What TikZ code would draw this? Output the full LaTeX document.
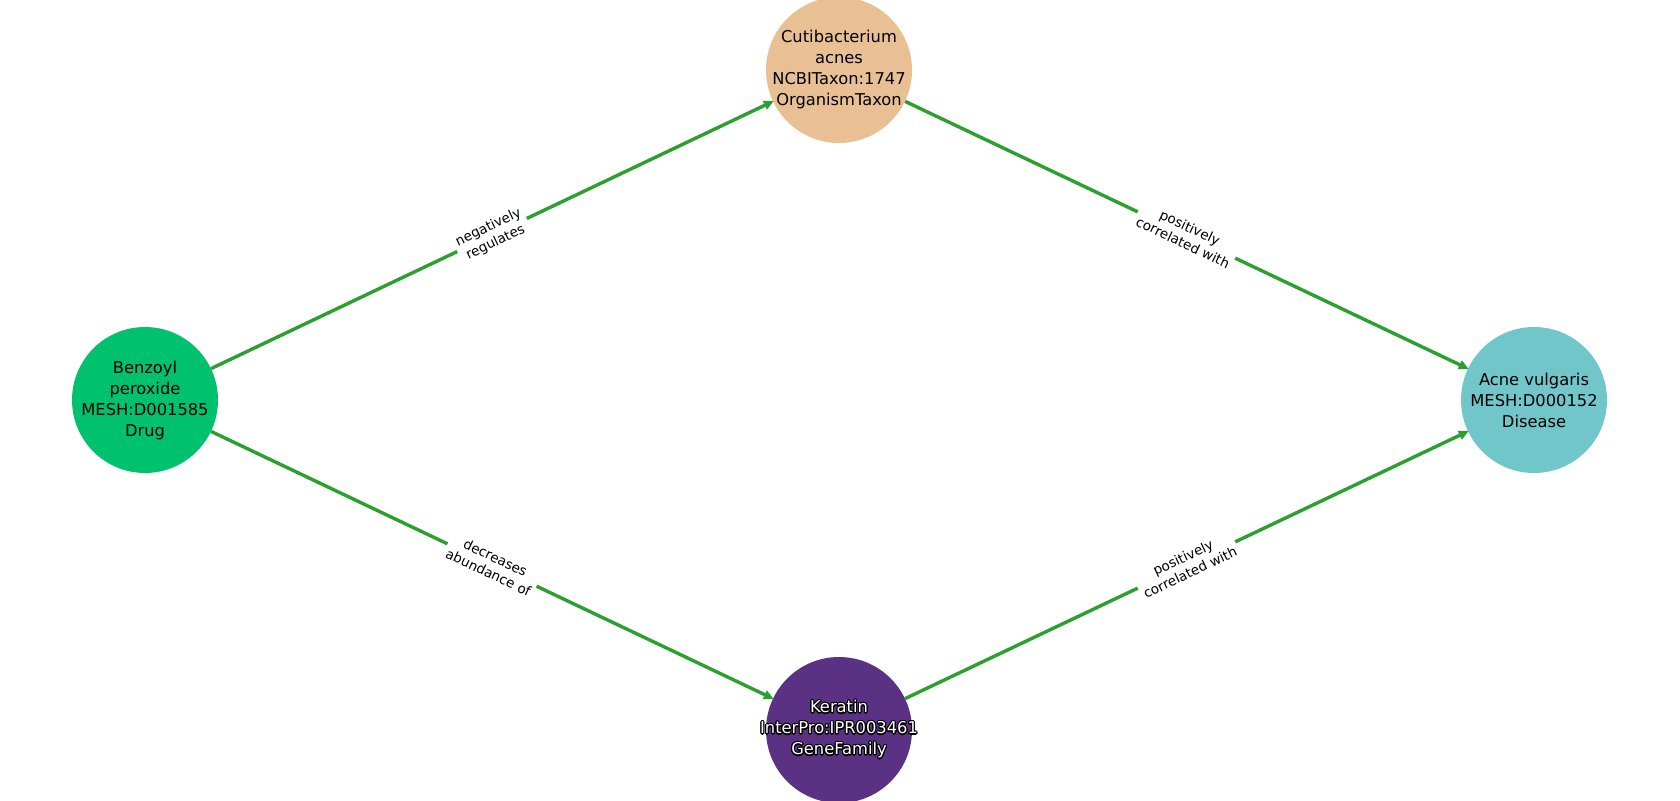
\documentclass[tikz,border=0pt]{standalone}
\usepackage{fontspec}
\setmainfont{DejaVu Sans}
\usepackage[copies]{contour}
\contourlength{1.1pt}
\usetikzlibrary{arrows.meta}
\definecolor{cdrug}{RGB}{0,194,110}
\definecolor{ctaxon}{RGB}{233,191,148}
\definecolor{cdis}{RGB}{113,198,202}
\definecolor{cgene}{RGB}{91,49,132}
\definecolor{cedge}{RGB}{44,160,44}
\tikzset{
  ent/.style={circle, minimum size=146pt, inner sep=0pt, draw=none},
  entlbl/.style={align=center, inner sep=0pt, font=\fontsize{16.3}{21}\selectfont},
  rel/.style={draw=cedge, line width=3.4pt, -{Triangle[length=10pt,width=9pt]}, shorten >=-1pt},
  rellbl/.style={midway, sloped, fill=white, inner sep=3pt, align=center, text=black,
    font=\fontsize{13.5}{16.5}\selectfont},
}
\begin{document}
\begin{tikzpicture}[x=1pt,y=-1pt]
\useasboundingbox (0,0) rectangle (1680,800);
\node[ent, fill=cdrug] (b) at (145,400) {};
\node[ent, fill=ctaxon] (c) at (839,70) {};
\node[ent, fill=cdis] (a) at (1534,400) {};
\node[ent, fill=cgene] (k) at (839,730) {};
\node[entlbl] (bl) at (b) {Benzoyl\\peroxide\\MESH:D001585\\Drug};
\node[entlbl] (cl) at (c) {Cutibacterium\\acnes\\NCBITaxon:1747\\OrganismTaxon};
\node[entlbl] (al) at (a) {Acne vulgaris\\MESH:D000152\\Disease};
\node[entlbl, text=white] (kl) at (k) {\contour{black}{Keratin}\\\contour{black}{InterPro:IPR003461}\\\contour{black}{GeneFamily}};
\draw[rel] (b) -- node[rellbl] {negatively\\regulates} (c);
\draw[rel] (c) -- node[rellbl] {positively\\correlated with} (a);
\draw[rel] (b) -- node[rellbl] {decreases\\abundance of} (k);
\draw[rel] (k) -- node[rellbl] {positively\\correlated with} (a);
\end{tikzpicture}
\end{document}
